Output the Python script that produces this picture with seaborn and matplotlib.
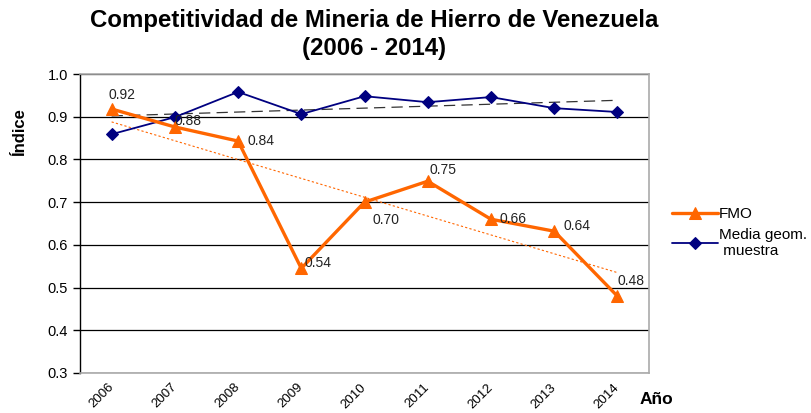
import numpy as np
import pandas as pd
import seaborn as sns
import matplotlib.pyplot as plt

years = ["2006", "2007", "2008", "2009", "2010", "2011", "2012", "2013", "2014"]
fmo = [0.918, 0.876, 0.843, 0.545, 0.700, 0.749, 0.660, 0.632, 0.480]
fmo_labels = ["0.92", "0.88", "0.84", "0.54", "0.70", "0.75", "0.66", "0.64", "0.48"]
media = [0.859, 0.899, 0.958, 0.906, 0.948, 0.934, 0.946, 0.920, 0.911]

sns.set_style("white")
plt.rcParams["font.family"] = ["Liberation Sans", "DejaVu Sans"]
plt.rcParams["text.color"] = "black"
plt.rcParams["axes.labelcolor"] = "black"
plt.rcParams["xtick.color"] = "black"
plt.rcParams["ytick.color"] = "black"

orange = "#ff6600"
navy = "#000080"

x = np.arange(len(years))
df = pd.DataFrame({"x": x, "FMO": fmo, "Media": media})

fig = plt.figure(figsize=(8.11, 4.13), dpi=100)
ax = fig.add_axes([80 / 811, 1 - 373 / 413, 569 / 811, 299 / 413])

# linear trend lines (Excel style)
for col, color, ls, lw in [("Media", "#333333", (0, (9, 5)), 0.9), ("FMO", orange, (0, (2, 2)), 0.8)]:
    coef = np.polyfit(df["x"], df[col], 1)
    df[col + "_trend"] = np.polyval(coef, df["x"])
    sns.lineplot(data=df, x="x", y=col + "_trend", ax=ax, color=color,
                 linestyle=ls, linewidth=lw, legend=False, zorder=2)

sns.lineplot(data=df, x="x", y="FMO", ax=ax, color=orange, marker="^",
             markersize=9, markeredgecolor=orange, linewidth=2.4, label="FMO", zorder=4)
sns.lineplot(data=df, x="x", y="Media", ax=ax, color=navy, marker="D",
             markersize=6, markeredgecolor=navy, linewidth=1.3,
             label="Media geom.\n muestra", zorder=3)

# data labels
offsets = [(-2, 10), (0, 4), (6.5, 0), (2, 4), (6, -13), (1.5, 8), (6, 0), (7, 3.5), (0, 11)]
for i, (val, lab) in enumerate(zip(fmo, fmo_labels)):
    dx, dy = offsets[i]
    ax.annotate(lab, (x[i], val), xytext=(dx, dy), textcoords="offset points",
                fontsize=10, color="#222222", ha="left", va="center", zorder=5)

ax.set_xlim(-0.5, len(years) - 0.5)
ax.set_ylim(0.3, 1.0)
ax.set_yticks(np.arange(0.3, 1.01, 0.1))
ax.set_yticklabels([f"{v:.1f}" for v in np.arange(0.3, 1.01, 0.1)], fontsize=10.5)
ax.yaxis.grid(True, color="black", linewidth=0.9)
ax.set_axisbelow(True)

ax.set_xticks(x)
ax.set_xticklabels(years, rotation=45, ha="right", va="center",
                   rotation_mode="anchor", fontsize=9.5)
ax.tick_params(axis="x", length=0, pad=9)
ax.set_xticks(np.arange(-0.5, len(years), 1), minor=True)
ax.tick_params(axis="x", which="minor", length=5, width=1, color="black", direction="out")
ax.tick_params(axis="y", length=5, width=1, color="black", direction="out", left=True)

for side in ["top", "right", "bottom"]:
    ax.spines[side].set_color("#aaaaaa")
    ax.spines[side].set_linewidth(1.2)
ax.spines["left"].set_color("black")
ax.spines["left"].set_linewidth(1)

ax.set_xlabel("")
ax.set_ylabel("")
fig.text(20 / 811, 1 - 132 / 413, "Índice", rotation=90, fontsize=12,
         fontweight="bold", ha="center", va="center")
fig.text(656 / 811, 1 - 400 / 413, "Año", fontsize=12.5, fontweight="bold",
         ha="center", va="center")

fig.text(374 / 811, 1 - 21 / 413, "Competitividad de Mineria de Hierro de Venezuela",
         fontsize=17.3, fontweight="bold", ha="center", va="center")
fig.text(374 / 811, 1 - 48 / 413, "(2006 - 2014)", fontsize=17.3,
         fontweight="bold", ha="center", va="center")

ax.legend(loc="center left", bbox_to_anchor=(1.016, 0.47), frameon=False,
          fontsize=11, handlelength=3, handletextpad=0.1, labelspacing=0.45)

fig.savefig("out.png", dpi=100)
